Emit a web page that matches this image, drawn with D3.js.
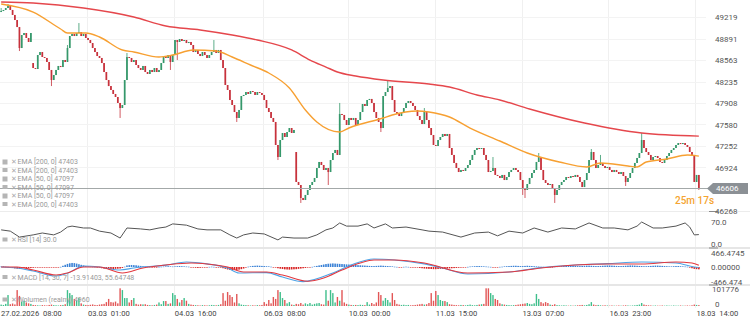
<!DOCTYPE html>
<html><head><meta charset="utf-8">
<script src="https://cdn.jsdelivr.net/npm/d3@7"></script>
<style>body{margin:0;background:#fff;} svg{display:block;font-family:Roboto,"Noto Sans",sans-serif;}</style>
</head><body><svg id="c" width="750" height="327"></svg>
<script>
// ---------- DATA (hourly candles) ----------
const closes=[49310,49326,49356,49387,49326,49250,49173,49066,48746,48944,
48975,48899,48838,48975,48441,48426,48639,48685,48609,48594,
48533,48411,48258,48334,48411,48472,48456,48563,48533,48746,
48929,48960,48929,48975,48990,48929,48960,48899,48868,48822,
48746,48685,48624,48594,48517,48380,48258,48166,48106,48045,
47999,47908,47831,47877,48258,48609,48594,48533,48563,48487,
48441,48411,48472,48380,48350,48411,48380,48441,48380,48411,
48517,48609,48594,48639,48533,48639,48868,48838,48883,48853,
48868,48822,48838,48792,48685,48716,48655,48624,48685,48639,
48594,48639,48685,48716,48670,48716,48563,48441,48182,48106,
47953,47877,47770,47679,47801,48014,48030,48075,48045,48090,
48075,48030,48075,48060,48030,47953,47831,47770,47679,47618,
47267,47084,47343,47450,47389,47465,47526,47450,47496,46703,
46657,46459,46428,46505,46581,46657,46703,46764,46916,47008,
46962,46886,46916,46855,47038,47145,47191,47115,47740,47725,
47648,47572,47679,47648,47679,47572,47648,47770,47892,47862,
47953,47969,47908,47770,47679,47618,47526,48014,48075,48136,
48166,47953,47770,47740,47709,47755,47831,47908,47938,47908,
47862,47801,47709,47648,47587,47770,47648,47526,47419,47267,
47252,47343,47389,47435,47404,47435,47221,47115,46993,46916,
46855,46886,46871,46916,46962,47038,47115,47191,47221,47206,
47221,47115,47038,46855,46871,46916,46810,46794,46764,46810,
46733,46779,46855,46886,46916,46886,46855,46733,46611,46581,
46672,46764,46840,46886,47008,47084,46886,46733,46688,46657,
46672,46611,46505,46581,46657,46703,46733,46779,46764,46794,
46779,46810,46779,46703,46626,46733,46840,47038,47160,47038,
46916,46962,46993,46947,46916,46932,46886,46855,46886,46855,
46825,46855,46794,46703,46764,46840,46916,46993,47069,47145,
47343,47221,47160,47115,47038,47084,47099,47069,47008,46993,
47038,47099,47145,47191,47221,47267,47297,47282,47297,47267,
47237,47160,47115,46703,46810,46606];
const firstOpen=49295;
const gapOpens=[[14,48517],[129,47160]];
const wickHighs=[[0,49356],[3,49417],[29,48792],[34,49127],[55,48670],[93,48868],[148,47908],[169,48258],[185,47831],[215,47084],[235,47145],[258,47206],[262,47115],[280,47450]];
const wickLows=[[8,48700],[22,48166],[52,47679],[74,48411],[77,48563],[103,47618],[121,47038],[131,46383],[143,46657],[166,47465],[228,46505],[229,46459],[242,46383],[273,46642],[305,46581]];
const volumes=[8000,6000,12000,62000,10000,14000,9000,90000,57000,25000,
30000,20000,15000,12000,6000,5000,4000,3000,5000,4000,
3000,6000,8000,5000,4000,3000,5000,6000,10000,90000,
73000,62000,40000,30000,45000,15000,8000,6000,5000,7000,
9000,6000,5000,8000,10000,12000,22000,40000,22000,20000,
25000,15000,100000,90000,45000,45000,20000,34000,45000,12000,
8000,10000,9000,10000,6000,5000,4000,6000,8000,20000,
10000,28000,28000,12000,15000,73000,62000,40000,20000,34000,
45000,30000,12000,8000,6000,5000,4000,3000,5000,4000,
3000,4000,6000,5000,4000,6000,10000,73000,30000,79000,
62000,51000,20000,68000,15000,8000,6000,5000,4000,3000,
4000,3000,5000,4000,6000,22000,12000,34000,15000,51000,
40000,90000,79000,45000,34000,15000,22000,8000,6000,12000,
10000,17000,8000,15000,10000,17000,8000,12000,15000,17000,
10000,8000,90000,30000,90000,73000,20000,51000,30000,90000,
20000,12000,8000,6000,5000,6000,5000,7000,6000,5000,
22000,8000,17000,10000,20000,79000,62000,30000,45000,34000,
20000,73000,34000,12000,8000,6000,7000,5000,6000,4000,
5000,6000,8000,10000,12000,8000,10000,17000,73000,30000,
85000,62000,34000,28000,28000,22000,10000,8000,6000,5000,
4000,6000,5000,4000,6000,8000,5000,4000,6000,8000,
10000,12000,100000,100000,73000,62000,40000,34000,15000,10000,
8000,6000,5000,4000,5000,6000,8000,10000,12000,14000,
17000,12000,10000,15000,68000,40000,22000,15000,22000,17000,
8000,6000,10000,5000,4000,3000,4000,3000,2000,3000,
2000,3000,4000,5000,6000,4000,6000,10000,22000,8000,
5000,6000,4000,3000,4000,3000,2000,3000,2000,2000,
3000,2000,3000,4000,3000,2000,3000,4000,6000,8000,
17000,8000,5000,4000,3000,2000,3000,2000,2000,3000,
2000,3000,2000,2000,3000,2000,2000,3000,2000,2000,
3000,2000,4000,8000,6000,4960];
const ema200=[[0,49448],[14,49432],[36,49356],[58,49219],[72,49082],[87,49021],[101,48944],[112,48868],[127,48716],[135,48563],[142,48456],[147,48380],[155,48319],[167,48258],[187,48197],[196,48151],[208,48030],[218,47953],[231,47816],[255,47602],[280,47450],[305,47403]];
const ema50=[[0,49417],[14,49295],[26,49036],[29,48975],[37,48975],[43,48914],[53,48716],[58,48685],[69,48609],[75,48639],[84,48716],[94,48700],[101,48609],[109,48487],[117,48365],[126,48136],[133,47801],[138,47618],[148,47465],[152,47526],[167,47679],[171,47725],[182,47786],[187,47770],[196,47694],[205,47526],[218,47328],[230,47145],[244,47008],[256,46932],[262,46992],[274,46947],[278,46932],[282,47008],[291,47053],[300,47114],[305,47097]];
const rsi=[[0,45],[4,41],[8,22],[14,29],[18,35],[23,29],[26,38],[29,54],[31,57],[36,51],[39,51],[43,41],[48,35],[52,19],[55,51],[61,48],[65,45],[69,51],[72,54],[75,64],[81,60],[86,48],[90,45],[96,45],[100,29],[103,19],[106,29],[110,35],[115,32],[121,13],[123,22],[128,19],[134,19],[138,29],[142,45],[145,51],[148,67],[151,57],[156,57],[160,64],[163,51],[168,64],[171,51],[177,54],[184,45],[187,41],[193,38],[201,22],[207,35],[213,38],[217,26],[222,41],[228,35],[233,51],[239,38],[245,51],[251,48],[257,67],[263,51],[268,51],[274,45],[278,57],[280,70],[285,51],[289,51],[295,57],[299,67],[301,54],[303,29],[305,30]];
const macdLine=[[0,0],[7,-32],[14,-130],[24,-290],[29,-200],[36,32],[43,0],[52,-97],[58,-32],[72,60],[81,161],[90,100],[99,-32],[104,-193],[116,-180],[123,-322],[132,-470],[145,-193],[153,64],[163,257],[172,225],[185,100],[193,-32],[204,-225],[222,-161],[236,-20],[251,64],[265,110],[280,161],[295,129],[303,0],[305,-14]];
const signalLine=[[0,0],[7,0],[14,-97],[24,-257],[29,-193],[36,0],[43,0],[53,-193],[62,-32],[72,64],[83,129],[90,97],[99,0],[106,-161],[116,-161],[123,-257],[134,-460],[141,-354],[149,-97],[157,129],[163,225],[172,225],[185,129],[204,-193],[222,-161],[236,-32],[251,64],[265,97],[280,97],[295,161],[302,129],[305,56]];
const macdHist=[15,20,10,5,-5,
-30,-45,-55,-60,-50,-40,-45,-35,-30,-25,
-20,-15,-10,-15,-20,-10,-5,-10,-15,-10,-5,5,
40,70,100,120,130,125,110,90,70,50,30,
20,15,10,5,-10,-20,
-40,-55,-65,-70,-70,-65,-60,-55,-50,-30,10,
50,60,65,60,55,45,35,25,15,
10,5,-5,-10,-5,5,10,15,20,25,20,15,20,25,30,25,20,15,10,
-10,-20,-25,-30,-25,-20,-10,
-5,5,10,5,-5,-10,-20,-40,
-60,-80,-95,-100,-100,-95,-85,-70,-50,-20,
10,25,35,40,45,40,35,30,25,20,10,-5,-20,-40,-55,-65,
-75,-80,-85,-80,-75,-70,-60,-50,-40,-30,-20,-10,5,
20,35,50,65,80,95,105,110,115,110,105,100,95,90,85,80,75,70,65,60,55,50,45,40,35,30,
30,35,40,45,40,35,30,25,20,10,
5,-5,-10,5,10,5,-5,-10,-15,-20,
-30,-40,-50,-55,-60,-65,-70,-70,-65,-60,-60,-55,-50,-45,-40,-35,-30,-25,-20,-10,-5,5,
15,20,25,30,30,25,20,15,10,5,
-5,-10,-5,5,10,
20,25,30,35,40,40,35,30,30,35,40,35,30,25,20,15,10,5,
-10,-20,-20,-10,
10,15,20,25,30,35,35,40,40,35,30,30,35,40,45,45,40,35,30,30,35,40,45,50,50,45,40,35,30,30,35,40,45,50,50,45,40,35,30,25,25,30,35,40,45,45,40,35,30,25,20,20,25,30,30,25,20,15,10,
-20,-40,-60,-70,-75];
const priceTicks=[49219,48891,48563,48235,47908,47580,47252,46924,46268];
const lastPrice=46606;
const countdown="25m 17s";
const rsiTicks=[70,0];
const macdTicks=[466.4745,0,-466.474];
const macdTickLabels=["466.4745","0.00000","-466.474"];
const volTicks=[101776,0];
const xTickIdx=[0,38,76,115,152,190,228,266,304];
const xTickLabels=["27.02.2026  08:00","03.03  01:00","04.03  16:00","06.03  08:00","10.03  00:00","11.03  15:00","13.03  07:00","16.03  23:00","18.03  14:00"];
const legendMain=["EMA [200, 0] 47403","EMA [200, 0] 47403","EMA [50, 0] 47097","EMA [50, 0] 47097","EMA [50, 0] 47097","EMA [200, 0] 47403"];
const legendRsi="RSI [14] 30.0";
const legendMacd="MACD [14, 30, 7] -13.91403, 55.64748";
const legendVol="Wolumen (realny) 4960";

// ---------- BUILD ----------
const N=closes.length;
const gapMap=new Map(gapOpens), hiMap=new Map(wickHighs), loMap=new Map(wickLows);
const candles=closes.map((c,i)=>{
  const o=i===0?firstOpen:(gapMap.has(i)?gapMap.get(i):closes[i-1]);
  const h=Math.max(o,c,hiMap.has(i)?hiMap.get(i):-Infinity);
  const l=Math.min(o,c,loMap.has(i)?loMap.get(i):Infinity);
  return {i,o,h,l,c,up:c>=o,v:volumes[i],hist:macdHist[i]};
});

const svg=d3.select("#c");
const W=750;
const x=d3.scaleLinear().domain([0,N]).range([0,700]);
const cx=i=>x(i+0.5);
const y=d3.scaleLinear().domain([46230,49478.25]).range([213,0]);
const yR=d3.scaleLinear().domain([0,100]).range([244,212.6]);
const yM=d3.scaleLinear().domain([-466.474,466.4745]).range([281.5,252.5]);
const yV=d3.scaleLinear().domain([0,101776]).range([306,288]);

const UP="#35986b", DN="#c7323c";

const defs=svg.append("defs");
[["cMain",0,212],["cRsi",212,36],["cMacd",249,36],["cVol",286,22]].forEach(([id,y0,h])=>{
  defs.append("clipPath").attr("id",id).append("rect").attr("x",0).attr("y",y0).attr("width",706).attr("height",h);
});

// grid
const g=svg.append("g");
g.selectAll(".vg").data(xTickIdx.slice(1)).join("line")
  .attr("x1",d=>Math.round(x(d))+0.5).attr("x2",d=>Math.round(x(d))+0.5).attr("y1",0).attr("y2",308)
  .attr("stroke","#f0f0f0");
g.selectAll(".hg").data(priceTicks).join("line")
  .attr("x1",0).attr("x2",706).attr("y1",d=>Math.round(y(d))+0.5).attr("y2",d=>Math.round(y(d))+0.5)
  .attr("stroke","#f3f3f3");
g.append("line").attr("x1",0).attr("x2",W).attr("y1",211.5).attr("y2",211.5).attr("stroke","#ececec");
[248,285].forEach(yy=>g.append("rect").attr("x",0).attr("y",yy-1).attr("width",W).attr("height",2).attr("fill","#e6e6e6"));
[211.5,248,285].forEach(yy=>g.append("line").attr("x1",709).attr("x2",718).attr("y1",yy).attr("y2",yy).attr("stroke","#888"));

// main panel
const mp=svg.append("g").attr("clip-path","url(#cMain)");
mp.selectAll(".wick").data(candles).join("line")
  .attr("x1",d=>cx(d.i)).attr("x2",d=>cx(d.i)).attr("y1",d=>y(d.h)).attr("y2",d=>y(d.l))
  .attr("stroke",d=>d.up?UP:DN).attr("stroke-width",0.8);
mp.selectAll(".body").data(candles).join("rect")
  .attr("x",d=>cx(d.i)-0.85).attr("width",1.7)
  .attr("y",d=>y(Math.max(d.o,d.c))).attr("height",d=>Math.max(1,Math.abs(y(d.o)-y(d.c))))
  .attr("fill",d=>d.up?UP:DN);
const lineE=d3.line().x(d=>cx(d[0])).y(d=>y(d[1])).curve(d3.curveMonotoneX);
mp.append("path").attr("d",lineE(ema200)).attr("fill","none").attr("stroke","#e5474c").attr("stroke-width",1.4);
mp.append("path").attr("d",lineE(ema50)).attr("fill","none").attr("stroke","#f7a032").attr("stroke-width",1.4);

// current price line + tag
const yl=Math.round(y(lastPrice))+0.5;
svg.append("line").attr("x1",0).attr("x2",708).attr("y1",yl).attr("y2",yl).attr("stroke","#a3a8a8").attr("stroke-width",1);
svg.append("path").attr("d",`M707,${yl} L713,${yl-5.5} L748,${yl-5.5} L748,${yl+5.5} L713,${yl+5.5} Z`).attr("fill","#8b9095");
svg.append("text").attr("x",716).attr("y",yl).attr("dy","0.35em").attr("fill","#fff").attr("font-size",8).text(d3.format("d")(lastPrice));
svg.append("text").attr("x",675).attr("y",yl+12).attr("dy","0.35em").attr("fill","#f5a431").attr("font-size",10).attr("font-weight",500).text(countdown);

// price axis
const ax=svg.append("g").attr("transform","translate(715,0)")
  .call(d3.axisRight(y).tickValues(priceTicks).tickSize(0).tickPadding(0).tickFormat(d3.format("d")));
ax.select(".domain").remove();
ax.selectAll("text").attr("font-size",8).attr("fill","#555").attr("font-family","Roboto");

// RSI
const rp=svg.append("g").attr("clip-path","url(#cRsi)");
rp.append("path").attr("d",d3.line().x(d=>cx(d[0])).y(d=>yR(d[1]))(rsi)).attr("fill","none").attr("stroke","#555").attr("stroke-width",1);
const axR=svg.append("g").attr("transform","translate(711,0)")
  .call(d3.axisRight(yR).tickValues(rsiTicks).tickSize(0).tickPadding(0).tickFormat(d3.format(".1f")));
axR.select(".domain").remove();
axR.selectAll("text").attr("font-size",8).attr("fill","#555").attr("font-family","Roboto");

// MACD
const mcp=svg.append("g").attr("clip-path","url(#cMacd)");
mcp.selectAll(".hb").data(candles).join("rect")
  .attr("x",d=>cx(d.i)-0.8).attr("width",1.6)
  .attr("y",d=>Math.min(yM(0),yM(d.hist))).attr("height",d=>Math.max(0.6,Math.abs(yM(d.hist)-yM(0))))
  .attr("fill",d=>d.hist>=0?"#3b82d6":"#d82424");
const lineM=d3.line().x(d=>cx(d[0])).y(d=>yM(d[1])).curve(d3.curveMonotoneX);
mcp.append("path").attr("d",lineM(macdLine)).attr("fill","none").attr("stroke","#4ea3e6").attr("stroke-width",1.1);
mcp.append("path").attr("d",lineM(signalLine)).attr("fill","none").attr("stroke","#e2383f").attr("stroke-width",1.1);
const axM=svg.append("g").attr("transform","translate(711,0)")
  .call(d3.axisRight(yM).tickValues(macdTicks).tickSize(0).tickPadding(0).tickFormat((d,k)=>macdTickLabels[k]));
axM.select(".domain").remove();
axM.selectAll("text").attr("font-size",8).attr("fill","#555").attr("font-family","Roboto");

// Volume
const vp=svg.append("g").attr("clip-path","url(#cVol)");
vp.selectAll(".vb").data(candles).join("rect")
  .attr("x",d=>cx(d.i)-0.7).attr("width",1.4)
  .attr("y",d=>yV(d.v)).attr("height",d=>yV(0)-yV(d.v))
  .attr("fill",d=>d.up?"#3fbf8c":"#e25656");
const axV=svg.append("g").attr("transform","translate(712,0)")
  .call(d3.axisRight(yV).tickValues(volTicks).tickSize(0).tickPadding(0).tickFormat(d3.format("d")));
axV.select(".domain").remove();
axV.selectAll("text").attr("font-size",8).attr("fill","#555").attr("font-family","Roboto")
  .attr("transform",(d)=>d===0?"translate(3,-2)":"translate(0,1)");

// X axis labels
svg.append("g").selectAll("text").data(xTickIdx).join("text")
  .attr("x",(d,k)=>k===0?1:x(d)+1).attr("y",313).attr("dy","0.35em")
  .attr("font-size",7.6).attr("fill","#444").style("white-space","pre")
  .text((d,k)=>xTickLabels[k]);

// legends
function legendRow(yy,txt,k){
  const lg=svg.append("g").attr("transform",`translate(0,${yy})`);
  lg.append("rect").attr("x",2.5).attr("y",-2.5).attr("width",5).attr("height",k%2===0?5:4).attr("fill","#b5b5b5");
  lg.append("text").attr("x",10.5).attr("y",0).attr("dy","0.35em").attr("font-size",6.5).attr("fill","#aaa").text("✕");
  lg.append("text").attr("x",17.5).attr("y",0).attr("dy","0.35em").attr("font-size",7).attr("fill","#999").text(txt);
}
legendMain.forEach((t,k)=>legendRow(162+k*8.5,t,k));
legendRow(240,legendRsi,1);
legendRow(277.5,legendMacd,1);
legendRow(300,legendVol,1);
</script></body></html>
